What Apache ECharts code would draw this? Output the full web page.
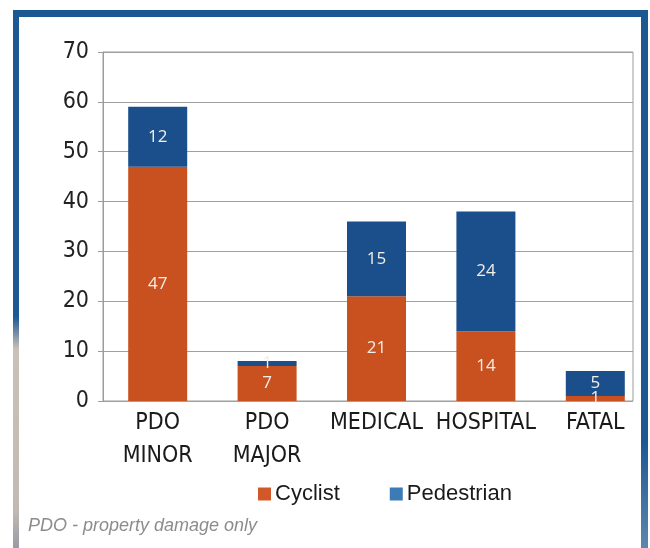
<!DOCTYPE html>
<html>
<head>
<meta charset="utf-8">
<script src="https://cdn.jsdelivr.net/npm/echarts@6/dist/echarts.min.js"></script>
<style>
  html, body { margin: 0; padding: 0; background: #ffffff; }
  #chart { width: 650px; height: 548px; }
</style>
</head>
<body>
<div id="chart"></div>
<script>
// Collision outcomes by severity, split by road user type
const categories = ['PDO\nMINOR', 'PDO\nMAJOR', 'MEDICAL', 'HOSPITAL', 'FATAL'];
const cyclist = [47, 7, 21, 14, 1];
const pedestrian = [12, 1, 15, 24, 5];
const seriesNames = ['Cyclist', 'Pedestrian'];
const yMin = 0, yMax = 70, yStep = 10;
const footnote = 'PDO - property damage only';

const ORANGE = '#c9501f';
const BLUE = '#1b4f8b';
const FRAME = '#1c5892';
const narrow = '"Liberation Sans Narrow", "DejaVu Sans Condensed", "Arial Narrow", sans-serif';

const chart = echarts.init(document.getElementById('chart'), null, { renderer: 'canvas' });

const segLabel = {
  show: true,
  position: 'inside',
  color: '#f4eee8',
  fontFamily: '"Open Sans", "Liberation Sans", sans-serif',
  fontSize: 17
};

chart.setOption({
  backgroundColor: '#ffffff',
  animation: false,
  grid: [
    // frame + horizontal rules
    { left: 103, right: 17, top: 52, bottom: 147, show: true, borderColor: '#9c9c9c', borderWidth: 1 },
    // bar layout (wider category band, bars reach the right edge)
    { left: 103, width: 553, top: 52, bottom: 147 }
  ],
  xAxis: [
    { type: 'value', gridIndex: 0, show: false, min: 0, max: 1 },
    {
      type: 'category', gridIndex: 1, data: categories,
      axisLine: { show: false }, axisTick: { show: false },
      axisLabel: {
        color: '#1a1a1a', fontFamily: narrow, fontSize: 23, lineHeight: 33,
        margin: 6, interval: 0
      }
    }
  ],
  yAxis: [
    {
      type: 'value', gridIndex: 0, min: yMin, max: yMax, interval: yStep,
      axisLine: { show: true, lineStyle: { color: '#9c9c9c', width: 1 } },
      axisTick: { show: true, length: 5, lineStyle: { color: '#9c9c9c' } },
      splitLine: { show: true, lineStyle: { color: '#a0a0a0', width: 1 } },
      axisLabel: { color: '#222', fontFamily: narrow, fontSize: 23, margin: 14 }
    },
    { type: 'value', gridIndex: 1, min: yMin, max: yMax, interval: yStep, show: false }
  ],
  legend: {
    left: 253, top: 478,
    itemWidth: 13, itemHeight: 13, itemGap: 50,
    icon: 'rect',
    textStyle: { color: '#1a1a1a', fontFamily: '"Liberation Sans", Arial, sans-serif', fontSize: 22, padding: [0, 0, 0, -1] },
    data: [
      { name: seriesNames[0], itemStyle: { color: '#d2582a' } },
      { name: seriesNames[1], itemStyle: { color: '#3d7bb6' } }
    ]
  },
  series: [
    {
      name: seriesNames[0], type: 'bar', stack: 'total',
      xAxisIndex: 1, yAxisIndex: 1, barWidth: 59,
      itemStyle: { color: ORANGE }, label: segLabel,
      data: cyclist
    },
    {
      name: seriesNames[1], type: 'bar', stack: 'total',
      xAxisIndex: 1, yAxisIndex: 1, barWidth: 59,
      itemStyle: { color: BLUE }, label: segLabel,
      data: pedestrian
    }
  ],
  graphic: [
    // page frame
    { type: 'rect', shape: { x: 13, y: 10, width: 635, height: 7 }, style: { fill: FRAME }, silent: true },
    {
      type: 'rect', shape: { x: 641, y: 10, width: 7, height: 538 }, silent: true,
      style: { fill: new echarts.graphic.LinearGradient(0, 0, 0, 1, [
        { offset: 0, color: FRAME }, { offset: 0.8, color: FRAME }, { offset: 1, color: '#5d86ad' }
      ]) }
    },
    {
      type: 'rect', shape: { x: 13, y: 10, width: 6, height: 538 }, silent: true,
      style: { fill: new echarts.graphic.LinearGradient(0, 0, 0, 1, [
        { offset: 0, color: FRAME }, { offset: 0.57, color: FRAME },
        { offset: 0.63, color: '#c9c1b7' }, { offset: 0.93, color: '#c2bab2' }, { offset: 1, color: '#9a9aa6' }
      ]) }
    },
    {
      type: 'text', left: 28, top: 517, silent: true,
      style: {
        text: footnote, fill: '#8c8c8c',
        font: 'italic 300 18px "Liberation Sans", Arial, sans-serif'
      }
    }
  ]
});
</script>
</body>
</html>
